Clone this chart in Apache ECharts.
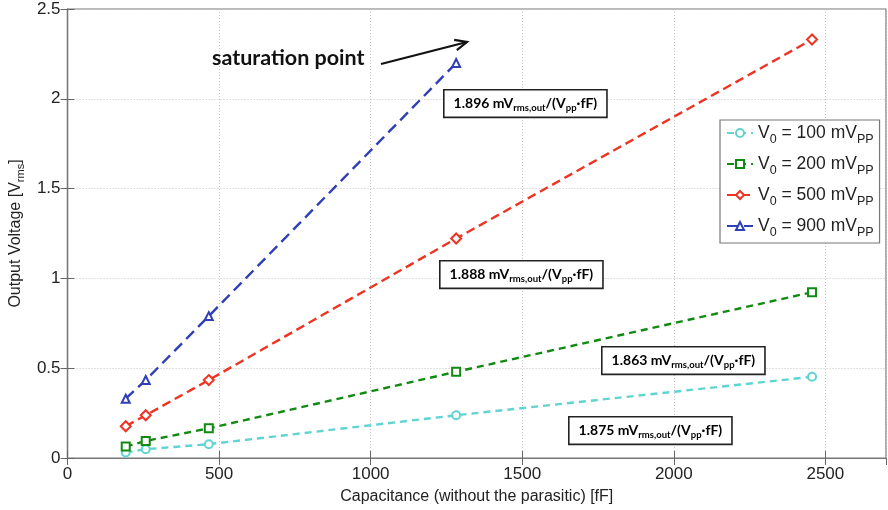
<!DOCTYPE html>
<html>
<head>
<meta charset="utf-8">
<script src="https://cdn.jsdelivr.net/npm/echarts@6/dist/echarts.min.js"></script>
<style>
  html, body { margin: 0; padding: 0; background: #fff; }
  #chart { width: 888px; height: 510px; }
</style>
</head>
<body>
<div id="chart"></div>
<script>
// Measured capacitances (without parasitic) in fF
const capacitance = [192, 258, 466, 1282, 2456];

// Output voltage [Vrms] for each input amplitude
const vout100 = [0.031, 0.049, 0.077, 0.238, 0.452];
const vout200 = [0.064, 0.095, 0.165, 0.480, 0.923];
const vout500 = [0.177, 0.238, 0.434, 1.222, 2.330];
const vout900 = [0.330, 0.434, 0.790, 2.199];

// Legend amplitudes (mVpp) and fitted sensitivities
const amplitudes = ['100', '200', '500', '900'];
const sensitivities = ['1.896', '1.888', '1.863', '1.875'];

const xTicks = [0, 500, 1000, 1500, 2000, 2500];
const yTicks = [0, 0.5, 1, 1.5, 2, 2.5];

const FONT = 'Liberation Sans, Arial, sans-serif';
const NOTE_FONT = 'Lato, Open Sans, sans-serif';

const seriesDefs = [
  { amp: amplitudes[0], data: vout100, color: '#5fd4d0', symbol: 'circle', dash: [7, 5] },
  { amp: amplitudes[1], data: vout200, color: '#118a11', symbol: 'rect', dash: [7, 5] },
  { amp: amplitudes[2], data: vout500, color: '#ee3322', symbol: 'diamond', dash: [9, 5] },
  { amp: amplitudes[3], data: vout900, color: '#2f3fb5', symbol: 'triangle', dash: [11, 6] }
];

const legendName = amp => 'V0 = ' + amp + ' mVPP';

const series = seriesDefs.map(d => ({
  name: legendName(d.amp),
  type: 'line',
  data: d.data.map((v, i) => [capacitance[i], v]),
  symbol: d.symbol,
  symbolSize: d.symbol === 'diamond' ? 10 : 8,
  showSymbol: true,
  itemStyle: { color: '#fff', borderColor: d.color, borderWidth: 2 },
  lineStyle: { color: d.color, width: 2.4, type: d.dash },
  emphasis: { disabled: true },
  animation: false,
  z: 3
}));

const chart = echarts.init(document.getElementById('chart'), null, { renderer: 'canvas' });

const gridLeft = 64, gridTop = 9, gridRight = 2, gridBottom = 46;

const tickStyle = { show: true, inside: true, length: 7, lineStyle: { color: '#666', width: 1 } };
const lineStyleAxis = { show: true, lineStyle: { color: '#777', width: 1.2 } };

// Sensitivity note boxes
const notePositions = [
  [443, 89], [439, 260], [601, 346], [568, 416]
];
const noteRich = {
  b: { fontFamily: NOTE_FONT, fontWeight: 'bold', fontSize: 14, color: '#222' },
  s: { fontFamily: NOTE_FONT, fontWeight: 'bold', fontSize: 9.5, color: '#222', padding: [9, 0, 0, 0] }
};
const notes = sensitivities.map((s, i) => ({
  type: 'text',
  left: notePositions[i][0],
  top: notePositions[i][1],
  z: 10,
  style: {
    text: '{b|' + s + ' mV}{s|rms,out}{b|/(V}{s|pp}{b|·fF)}',
    rich: noteRich,
    backgroundColor: '#fff',
    borderColor: '#222',
    borderWidth: 1.6,
    padding: [3, 9, 4, 9]
  }
}));

// Arrow pointing at the saturation point
const arrowStart = [381, 64], arrowEnd = [467, 42];
const ang = Math.atan2(arrowEnd[1] - arrowStart[1], arrowEnd[0] - arrowStart[0]);
const headLen = 13, headAng = 0.42;
const wing = s => [arrowEnd[0] - headLen * Math.cos(ang + s * headAng), arrowEnd[1] - headLen * Math.sin(ang + s * headAng)];

const option = {
  backgroundColor: '#fff',
  animation: false,
  grid: {
    left: gridLeft, top: gridTop, right: gridRight, bottom: gridBottom,
    show: true, borderColor: '#777', borderWidth: 1.2, backgroundColor: '#fff'
  },
  legend: {
    orient: 'vertical',
    left: 720, top: 120,
    padding: [4, 6, 4, 6],
    itemGap: 9,
    itemWidth: 26,
    itemHeight: 10,
    backgroundColor: '#fff',
    borderColor: '#777',
    borderWidth: 1.2,
    borderRadius: 0,
    selectedMode: false,
    data: seriesDefs.map(d => legendName(d.amp)),
    formatter: name => {
      const amp = name.replace('V0 = ', '').replace(' mVPP', '');
      return '{a|V}{s|0}{a| = ' + amp + ' mV}{s|PP}';
    },
    textStyle: {
      rich: {
        a: { fontFamily: FONT, fontSize: 17.5, color: '#222' },
        s: { fontFamily: FONT, fontSize: 12.5, color: '#222', padding: [13, 0, 0, 0] }
      }
    }
  },
  xAxis: [{
    type: 'value',
    min: 0, max: 2700, interval: 500,
    position: 'bottom',
    axisLine: lineStyleAxis,
    axisTick: tickStyle,
    axisLabel: {
      show: true, margin: 8, fontFamily: FONT, fontSize: 17, color: '#222',
      showMaxLabel: false,
      formatter: v => xTicks.includes(v) ? String(v) : ''
    },
    splitLine: { show: true, lineStyle: { color: '#c4c4c4', type: [1, 2], width: 1 } },
    name: 'Capacitance (without the parasitic) [fF]',
    nameLocation: 'middle',
    nameGap: 31,
    nameTextStyle: { fontFamily: FONT, fontSize: 16, color: '#222' }
  }, {
    type: 'value',
    min: 0, max: 2700, interval: 500,
    position: 'top',
    axisLine: lineStyleAxis,
    axisTick: tickStyle,
    axisLabel: { show: false },
    splitLine: { show: false }
  }],
  yAxis: [{
    type: 'value',
    min: 0, max: 2.5, interval: 0.5,
    position: 'left',
    axisLine: lineStyleAxis,
    axisTick: tickStyle,
    axisLabel: {
      show: true, margin: 7, fontFamily: FONT, fontSize: 17, color: '#222',
      formatter: v => yTicks.includes(v) ? String(v) : ''
    },
    splitLine: { show: true, lineStyle: { color: '#c4c4c4', type: [1, 2], width: 1 } },
    name: '{a|Output Voltage [V}{s|rms}{a|]}',
    nameLocation: 'middle',
    nameGap: 41,
    nameRotate: 90,
    nameTextStyle: {
      rich: {
        a: { fontFamily: FONT, fontSize: 16, color: '#222' },
        s: { fontFamily: FONT, fontSize: 11, color: '#222', padding: [9, 0, 0, 0] }
      }
    }
  }, {
    type: 'value',
    min: 0, max: 2.5, interval: 0.5,
    position: 'right',
    axisLine: lineStyleAxis,
    axisTick: tickStyle,
    axisLabel: { show: false },
    splitLine: { show: false }
  }],
  series: series,
  graphic: [
    ...notes,
    {
      type: 'text',
      left: 212, top: 47, z: 10,
      style: { text: 'saturation point', fontFamily: NOTE_FONT, fontWeight: 'bold', fontSize: 21.5, fill: '#111' }
    },
    {
      type: 'line', z: 10,
      shape: { x1: arrowStart[0], y1: arrowStart[1], x2: arrowEnd[0], y2: arrowEnd[1] },
      style: { stroke: '#111', lineWidth: 2.2 }
    },
    {
      type: 'polyline', z: 10,
      shape: { points: [wing(1), arrowEnd, wing(-1)] },
      style: { stroke: '#111', lineWidth: 2.2, fill: null }
    }
  ]
};

chart.setOption(option);
</script>
</body>
</html>
